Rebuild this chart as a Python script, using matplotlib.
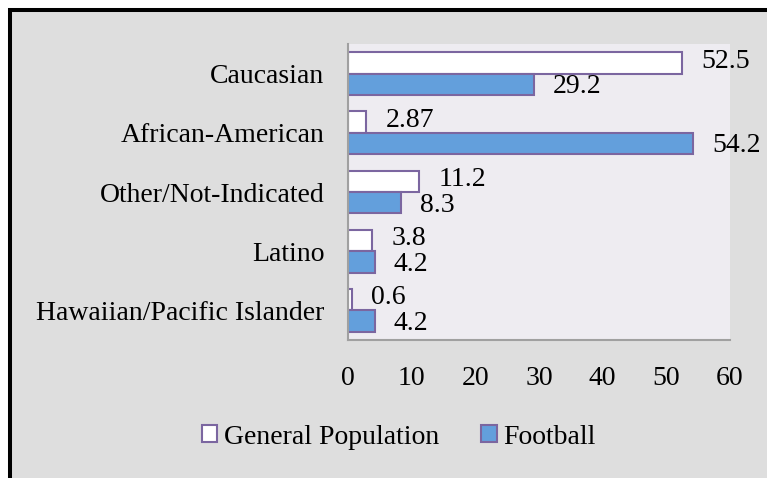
import matplotlib
matplotlib.use("Agg")
import matplotlib.pyplot as plt
from matplotlib.patches import Rectangle, Patch
import numpy as np

categories = ["Caucasian", "African-American", "Other/Not-Indicated", "Latino", "Hawaiian/Pacific Islander"]
general_population = [52.5, 2.87, 11.2, 3.8, 0.6]
football = [29.2, 54.2, 8.3, 4.2, 4.2]
gp_labels = ["52.5", "2.87", "11.2", "3.8", "0.6"]
fb_labels = ["29.2", "54.2", "8.3", "4.2", "4.2"]
xticks = [0, 10, 20, 30, 40, 50, 60]

plt.rcParams['font.family'] = ['Liberation Serif', 'DejaVu Serif']
FS = 20

W, H = 767, 478
fig = plt.figure(figsize=(W / 100, H / 100), dpi=100)
fig.patch.set_facecolor('white')

# outer gray panel with black border (top and left visible)
bg = Rectangle((10 / W, -0.1), 1.2, (H - 10.5) / H + 0.1, transform=fig.transFigure,
               facecolor='#dedede', edgecolor='black', linewidth=2.9, zorder=-5)
fig.patches.append(bg)

ax = fig.add_axes([348 / W, (H - 340) / H, (730 - 348) / W, (340 - 44) / H])
ax.set_zorder(1)
ax.set_facecolor('#eeecf1')

edge = '#7b66a0'
n = len(categories)
y = np.arange(n)
bh = 0.36
ax.barh(y - bh / 2, general_population, height=bh, color='white', edgecolor=edge, linewidth=1.5,
        label='General Population')
ax.barh(y + bh / 2, football, height=bh, color='#639fdc', edgecolor=edge, linewidth=1.5,
        label='Football')

off = 19 * 60 / 382
for i in range(n):
    ax.text(general_population[i] + off, y[i] - bh / 2 - 0.03, gp_labels[i], va='center', ha='left',
            fontsize=FS, clip_on=False)
    ax.text(football[i] + off, y[i] + bh / 2 + 0.04, fb_labels[i], va='center', ha='left',
            fontsize=FS, clip_on=False)

ax.set_xlim(0, 60)
ax.set_ylim(n - 0.5, -0.5)
ax.set_yticks(y)
ax.set_yticklabels(categories, fontsize=FS)
ax.set_xticks(xticks)
ax.set_xticklabels([str(t) for t in xticks], fontsize=FS)
ax.tick_params(axis='both', length=0)
ax.tick_params(axis='y', pad=17)
ax.tick_params(axis='x', pad=19)
for s in ['top', 'right']:
    ax.spines[s].set_visible(False)
for s in ['left', 'bottom']:
    ax.spines[s].set_color('#a0a0a0')
    ax.spines[s].set_linewidth(1.5)

handles = [Patch(facecolor='white', edgecolor=edge, linewidth=1.5),
           Patch(facecolor='#639fdc', edgecolor=edge, linewidth=1.5)]
fig.legend(handles, ['General Population', 'Football'], loc='center',
           bbox_to_anchor=(399 / W, 1 - 437 / H), ncol=2, frameon=False, fontsize=FS,
           handlelength=0.55, handleheight=0.55, handletextpad=0.25, columnspacing=1.5)

fig.savefig('out.png', dpi=100)
